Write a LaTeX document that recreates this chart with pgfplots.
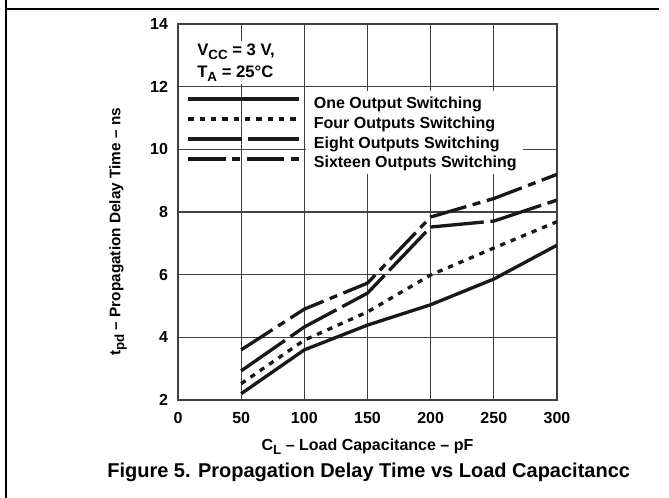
\documentclass[border=0pt]{standalone}
\usepackage{fontspec}
\setmainfont{Liberation Sans}
\usepackage{pgfplots}
\pgfplotsset{compat=1.18}
\newcommand\sub[1]{\raisebox{-0.45ex}{\fontsize{10}{10}\selectfont #1}}
\begin{document}
\begin{tikzpicture}[x=1pt,y=1pt]
\path[use as bounding box] (-133.5,-73.5) rectangle (368.25,300);
\draw[line width=0.9pt] (-129,300) -- (-129,-73.5);
\draw[line width=0.9pt] (-129,293.25) -- (360.75,293.25);
\begin{axis}[
 at={(0,0)}, anchor=south west, scale only axis,
 width=284.25pt, height=282pt,
 xmin=0, xmax=300, ymin=2, ymax=14,
 xtick={0,50,...,300}, ytick={2,4,...,14},
 grid=major, major grid style={black!75, line width=0.8pt},
 axis line style={black!75, line width=0.8pt},
 major tick length=0pt,
 /pgf/number format/assume math mode=true,
 tick label style={font=\fontsize{12}{14}\selectfont\bfseries},
 xticklabel style={yshift=-5.5pt},
 yticklabel style={xshift=-4pt},
 xlabel={C\sub{L} -- Load Capacitance -- pF},
 xlabel style={font=\fontsize{12}{14}\selectfont\bfseries, at={(axis description cs:0.5,-0.125)}, anchor=center},
 ylabel={t\sub{pd} -- Propagation Delay Time -- ns},
 ylabel style={font=\fontsize{11.5}{13}\selectfont\bfseries, at={(axis description cs:-0.158,0.447)}, anchor=center},
 legend style={at={(rel axis cs:0.021,0.807)}, anchor=north west, draw=none, fill=none,
   inner sep=0pt, row sep=4.7pt, column sep=9.75pt,
   font=\fontsize{12}{14}\selectfont\bfseries, cells={anchor=west},
   nodes={inner sep=0pt}},
 legend image code/.code={\draw[#1, line width=3pt] (0pt,0.35em) -- (83pt,0.35em);},
 every axis plot/.append style={line width=2.5pt, black!90},
]
\fill[white] (axis cs:101.5,9.2) rectangle (axis cs:273,11.85);
\node[fill=white, inner sep=1.5pt, anchor=north west, align=left,
      font=\fontsize{12.5}{17}\selectfont\bfseries] at (axis cs:13.5,13.45)
      {V\sub{CC} = 3 V,\\T\sub{A} = 25\textdegree C};
\addplot[solid] coordinates {(50,2.2) (100,3.6) (150,4.39) (200,5.04) (250,5.86) (300,6.94)};
\addlegendentry{One Output Switching}
\addplot[dash pattern=on 4pt off 4.5pt] coordinates {(50,2.52) (100,3.91) (150,4.81) (200,5.99) (250,6.85) (300,7.69)};
\addlegendentry{Four Outputs Switching}
\addplot[dash pattern=on 40pt off 5pt] coordinates {(50,2.93) (100,4.33) (150,5.41) (200,7.52) (250,7.71) (300,8.38)};
\addlegendentry{Eight Outputs Switching}
\addplot[dash pattern=on 28pt off 5pt on 6pt off 5pt] coordinates {(50,3.6) (100,4.9) (150,5.73) (200,7.84) (250,8.43) (300,9.2)};
\addlegendentry{Sixteen Outputs Switching}
\end{axis}
\node[font=\fontsize{15}{17}\selectfont\bfseries] at (143,-54) {Figure 5. Propagation Delay Time vs Load Capacitancc};
\end{tikzpicture}
\end{document}
